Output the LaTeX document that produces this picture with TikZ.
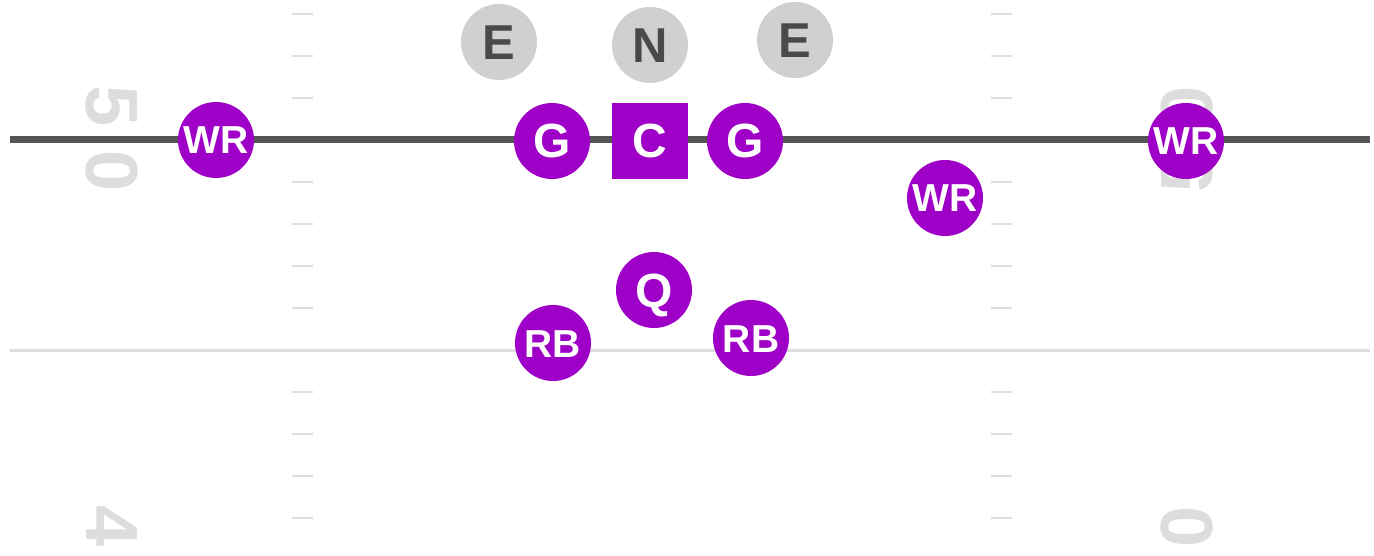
\documentclass[tikz,border=0pt]{standalone}
\usepackage{fontspec}
\setmainfont{Liberation Sans}
\definecolor{player}{RGB}{158,0,200}
\definecolor{defense}{RGB}{208,208,208}
\definecolor{defensetext}{RGB}{74,74,74}
\definecolor{scrimmage}{RGB}{85,85,85}
\definecolor{fieldmark}{RGB}{221,221,221}
\tikzset{
  hashmark/.style={draw=fieldmark, line width=2pt},
  yardnum/.style={text=fieldmark, font=\fontsize{74}{74}\selectfont\bfseries, inner sep=0pt},
  offense/.style={circle, fill=player, text=white, minimum size=76pt, inner sep=0pt,
    font=\fontsize{48}{48}\selectfont\bfseries, text height=34pt, text depth=0pt},
  offensetwo/.style={offense, font=\fontsize{39}{39}\selectfont\bfseries, text height=28pt},
  center/.style={offense, rectangle},
  lineman/.style={circle, fill=defense, text=defensetext, minimum size=76pt, inner sep=0pt,
    font=\fontsize{49}{49}\selectfont\bfseries, text height=35pt, text depth=0pt}
}
\begin{document}
\begin{tikzpicture}[x=1pt, y=-1pt]
\clip (0,0) rectangle (1374,556);
\fill[white] (0,0) rectangle (1374,556);

% hash marks, every yard
\foreach \yy in {14,56,98,182,224,266,308,392,434,476,518} {
  \draw[hashmark] (292,\yy) -- (313,\yy);
  \draw[hashmark] (991,\yy) -- (1012,\yy);
}

% yard numbers
\node[yardnum, rotate=-90] (l5) at (112,106.5) {5};
\node[yardnum, rotate=-90] (l0) at (112,171.5) {0};
\node[yardnum, rotate=-90] (l4) at (112,526.5) {4};
\node[yardnum, rotate=90] (r0) at (1187,106.5) {0};
\node[yardnum, rotate=90] (r5) at (1187,171.5) {5};
\node[yardnum, rotate=90] (r0b) at (1187,526.5) {0};

% yard line and line of scrimmage
\draw[fieldmark, line width=3pt] (10,350) -- (1370,350);
\draw[scrimmage, line width=7pt] (10,140) -- (1370,140);

% defense
\node[lineman] (eL) at (499,42) {E};
\node[lineman] (nt) at (650,45) {N};
\node[lineman] (eR) at (795,40) {E};

% offense
\node[offensetwo] (wrL) at (216,140) {WR};
\node[offense] (gL) at (552,141) {G};
\node[center] (c) at (650,141) {C};
\node[offense] (gR) at (745,141) {G};
\node[offensetwo] (wrS) at (945,198) {WR};
\node[offensetwo] (wrR) at (1186,141) {WR};
\node[offense] (qb) at (654,290) {Q};
\node[offensetwo] (rbL) at (553,343) {RB};
\node[offensetwo] (rbR) at (751,338) {RB};
\end{tikzpicture}
\end{document}
